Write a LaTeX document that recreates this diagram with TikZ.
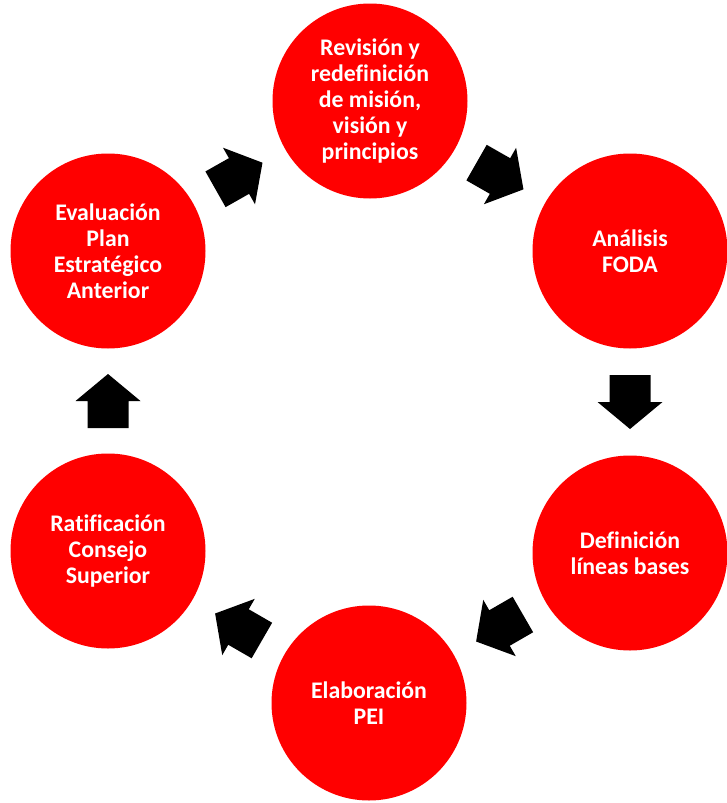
\documentclass[tikz,border=0pt]{standalone}
\usepackage{fontspec}
\setmainfont[Ligatures=NoCommon]{Carlito}
\usetikzlibrary{calc}
\definecolor{stagered}{HTML}{FF0000}
\tikzset{
  stage/.style={circle, fill=stagered, minimum size=195pt, inner sep=0pt,
    text=white, align=center, font=\bfseries\fontsize{23.8}{26}\selectfont},
  pics/blockarrow/.style={code={
    \fill[black] (-27,-20.5) -- (0,-20.5) -- (0,-32.5) -- (27,0) -- (0,32.5) -- (0,20.5) -- (-27,20.5) -- cycle;}}
}
\begin{document}
\begin{tikzpicture}[x=1pt,y=1pt]
\useasboundingbox (0,0) rectangle (727,-803);
\node[stage] (rev) at (370,-101) {Revisión y\\redefinición\\de misión,\\visión y\\principios};
\node[stage] (foda) at (630,-251) {Análisis\\FODA};
\node[stage] (def) at (630,-553) {Definición\\líneas bases};
\node[stage] (pei) at (369,-703) {Elaboración\\PEI};
\node[stage] (rat) at (108,-551) {Ratificación\\Consejo\\Superior};
\node[stage] (eva) at (108,-251) {Evaluación\\Plan\\Estratégico\\Anterior};
\path ($(eva.center)!0.5!(rev.center)$) pic[rotate=29.5] {blockarrow};
\path ($(rev.center)!0.5!(foda.center)$) pic[rotate=-29.7] {blockarrow};
\path ($(foda.center)!0.5!(def.center)$) pic[rotate=-90] {blockarrow};
\path ($(def.center)!0.5!(pei.center)$) pic[rotate=-150] {blockarrow};
\path ($(pei.center)!0.5!(rat.center)$) pic[rotate=150] {blockarrow};
\path ($(rat.center)!0.5!(eva.center)$) pic[rotate=90] {blockarrow};
\end{tikzpicture}
\end{document}
